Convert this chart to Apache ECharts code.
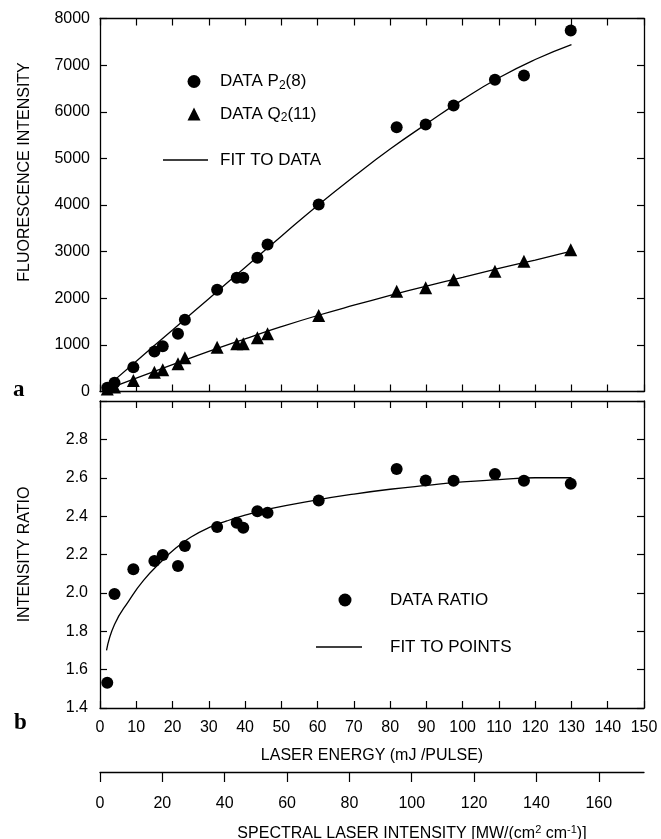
<!DOCTYPE html>
<html>
<head>
<meta charset="utf-8">
<title>fluorescence vs laser energy</title>
<script src="https://cdn.jsdelivr.net/npm/echarts@6/dist/echarts.min.js"></script>
<style>
  html, body { margin: 0; padding: 0; background: #fff; }
  #main { width: 661px; height: 839px; }
</style>
</head>
<body>
<div id="main"></div>
<script>
// laser energy of each shot (mJ/pulse), same for both panels
var energy = [2, 4, 9.2, 15, 17.3, 21.5, 23.4, 32.3, 37.7, 39.5, 43.4, 46.2, 60.3, 81.8, 89.8, 97.5, 108.9, 116.9, 129.8];
// panel a
var p2Data = [80, 190, 521, 858, 972, 1237, 1538, 2181, 2439, 2439, 2868, 3153, 4011, 5669, 5727, 6135, 6686, 6778, 7743];
var q2Data = [52, 95, 236, 414, 465, 594, 723, 950, 1023, 1023, 1152, 1237, 1630, 2152, 2224, 2396, 2581, 2795, 3039];
// panel b
var ratioData = [1.531, 1.994, 2.123, 2.166, 2.197, 2.140, 2.244, 2.343, 2.365, 2.339, 2.425, 2.417, 2.481, 2.645, 2.586, 2.584, 2.619, 2.584, 2.569];

// fit curves
var fitX = [2, 10, 20, 30, 40, 50, 60, 70, 80, 90, 100, 110, 120, 130];
var fitP2 = [110, 650, 1320, 1990, 2660, 3330, 3990, 4610, 5200, 5740, 6260, 6730, 7120, 7440];
var fitQ2 = [50, 285, 575, 860, 1130, 1390, 1630, 1850, 2060, 2260, 2450, 2640, 2820, 3010];
var ratioFitX = [1.8, 4, 8, 12, 17, 21, 25, 30, 35, 40, 46, 60, 70, 80, 90, 100, 110, 120, 130];
var ratioFit = [1.70, 1.835, 1.96, 2.065, 2.165, 2.235, 2.29, 2.34, 2.375, 2.405, 2.435, 2.485, 2.515, 2.54, 2.56, 2.578, 2.59, 2.60, 2.60];

// tick labels: [min, max, step]
var energyTicks = [0, 150, 10];
var spectralTicks = [0, 174.5, 20];
var fluoTicks = [0, 8000, 1000];
var ratioTicks = [1.4, 3.0, 0.2];

var FONT = '"Liberation Sans", Arial, sans-serif';

function pairs(xs, ys) {
  var out = [];
  for (var i = 0; i < xs.length; i++) out.push([xs[i], ys[i]]);
  return out;
}

// axis with inward ticks (frame sides)
function frameAxis(extra) {
  var ax = {
    type: 'value',
    axisLine: { show: true, onZero: false, lineStyle: { color: '#000', width: 1.3 } },
    axisTick: { show: true, inside: true, length: 7, lineStyle: { color: '#000', width: 1.2 } },
    axisLabel: { show: false },
    splitLine: { show: false }
  };
  for (var k in extra) ax[k] = extra[k];
  return ax;
}

var chart = echarts.init(document.getElementById('main'), null, { renderer: 'canvas' });

var labelStyle = {
  show: true, color: '#000', fontSize: 16, fontFamily: FONT,
  formatter: function (v) { return String(v); }
};

var option = {
  backgroundColor: '#fff',
  animation: false,
  grid: [
    { left: 100, top: 18.5, width: 544, height: 373, outerBoundsMode: 'none' },
    { left: 100, top: 401, width: 544, height: 307, outerBoundsMode: 'none' }
  ],
  xAxis: [
    frameAxis({ gridIndex: 0, position: 'bottom', min: energyTicks[0], max: energyTicks[1], interval: energyTicks[2] }),
    frameAxis({ gridIndex: 0, position: 'top', min: energyTicks[0], max: energyTicks[1], interval: energyTicks[2] }),
    frameAxis({
      gridIndex: 1, position: 'bottom', min: energyTicks[0], max: energyTicks[1], interval: energyTicks[2],
      axisLabel: Object.assign({}, labelStyle, { margin: 12 }),
      name: 'LASER ENERGY (mJ /PULSE)',
      nameLocation: 'middle',
      nameGap: 40,
      nameTextStyle: { color: '#000', fontSize: 16, fontFamily: FONT }
    }),
    frameAxis({ gridIndex: 1, position: 'top', min: energyTicks[0], max: energyTicks[1], interval: energyTicks[2] }),
    // second scale below: spectral laser intensity
    frameAxis({
      gridIndex: 1, position: 'bottom', offset: 64,
      min: spectralTicks[0], max: spectralTicks[1], interval: spectralTicks[2],
      axisTick: { show: true, inside: false, length: 10, lineStyle: { color: '#000', width: 1.2 } },
      axisLabel: Object.assign({}, labelStyle, { margin: 24, showMaxLabel: false }),
      name: '{n|SPECTRAL LASER INTENSITY [MW/(cm}{p|2}{n| cm}{p|-1}{n|)]}',
      nameLocation: 'middle',
      nameGap: 52,
      nameTextStyle: {
        color: '#000', fontSize: 16, fontFamily: FONT, padding: [0, 0, 0, 80],
        rich: {
          n: { fontSize: 16, lineHeight: 20, fontFamily: FONT, color: '#000' },
          p: { fontSize: 11, lineHeight: 11, fontFamily: FONT, color: '#000', verticalAlign: 'top' }
        }
      }
    })
  ],
  yAxis: [
    frameAxis({
      gridIndex: 0, position: 'left', min: fluoTicks[0], max: fluoTicks[1], interval: fluoTicks[2],
      axisLabel: Object.assign({}, labelStyle, { margin: 10 }),
      name: 'FLUORESCENCE INTENSITY',
      nameLocation: 'middle',
      nameGap: 67,
      nameTextStyle: { color: '#000', fontSize: 16, fontFamily: FONT, padding: [0, 0, 0, 66] }
    }),
    frameAxis({ gridIndex: 0, position: 'right', min: fluoTicks[0], max: fluoTicks[1], interval: fluoTicks[2] }),
    frameAxis({
      gridIndex: 1, position: 'left', min: ratioTicks[0], max: ratioTicks[1], interval: ratioTicks[2],
      axisLabel: Object.assign({}, labelStyle, {
        margin: 12,
        formatter: function (v) { return v > 2.95 ? '' : v.toFixed(1); }
      }),
      name: 'INTENSITY RATIO',
      nameLocation: 'middle',
      nameGap: 67,
      nameTextStyle: { color: '#000', fontSize: 16, fontFamily: FONT }
    }),
    frameAxis({ gridIndex: 1, position: 'right', min: ratioTicks[0], max: ratioTicks[1], interval: ratioTicks[2] })
  ],
  legend: [
    {
      data: ['DATA P2(8)', 'DATA Q2(11)'],
      orient: 'vertical', left: 187.5, top: 73, padding: 0,
      itemWidth: 13, itemHeight: 13, itemGap: 14,
      selectedMode: false,
      formatter: function (name) {
        if (name === 'DATA P2(8)') return '{f|DATA P}{s|2}{a|(8)}';
        return '{f|DATA Q}{s|2}{a|(11)}';
      },
      textStyle: {
        color: '#000', fontSize: 17, fontFamily: FONT,
        rich: {
          f: { fontSize: 17, lineHeight: 20, fontFamily: FONT, color: '#000', padding: [0, 0, 0, 14.5] },
          a: { fontSize: 17, lineHeight: 20, fontFamily: FONT, color: '#000' },
          s: { fontSize: 12, lineHeight: 12, fontFamily: FONT, color: '#000', verticalAlign: 'bottom' }
        }
      }
    },
    {
      // plain line as key, no marker
      data: [{ name: 'FIT TO DATA', icon: 'rect' }],
      left: 163, top: 150, padding: 0,
      itemWidth: 45, itemHeight: 1.3,
      selectedMode: false,
      itemStyle: { color: '#000' },
      textStyle: { color: '#000', fontSize: 17, lineHeight: 20, fontFamily: FONT, padding: [0, 0, 0, 7] }
    },
    {
      data: ['DATA RATIO'],
      left: 338.5, top: 590, padding: 0,
      itemWidth: 13, itemHeight: 13,
      selectedMode: false,
      textStyle: { color: '#000', fontSize: 17, lineHeight: 20, fontFamily: FONT, padding: [0, 0, 0, 33.5] }
    },
    {
      data: [{ name: 'FIT TO POINTS', icon: 'rect' }],
      left: 316, top: 637, padding: 0,
      itemWidth: 46, itemHeight: 1.3,
      selectedMode: false,
      itemStyle: { color: '#000' },
      textStyle: { color: '#000', fontSize: 17, lineHeight: 20, fontFamily: FONT, padding: [0, 0, 0, 23] }
    }
  ],
  graphic: [
    { type: 'text', left: 13, top: 379, style: { text: 'a', font: 'bold 23px "Liberation Serif", serif', fill: '#000' } },
    { type: 'text', left: 14, top: 712, style: { text: 'b', font: 'bold 23px "Liberation Serif", serif', fill: '#000' } }
  ],
  series: [
    {
      name: 'FIT TO DATA', type: 'line', xAxisIndex: 0, yAxisIndex: 0,
      data: pairs(fitX, fitP2), symbol: 'none', smooth: true,
      lineStyle: { color: '#000', width: 1.3 }, itemStyle: { color: '#000' }
    },
    {
      name: 'FIT TO DATA', type: 'line', xAxisIndex: 0, yAxisIndex: 0,
      data: pairs(fitX, fitQ2), symbol: 'none', smooth: true,
      lineStyle: { color: '#000', width: 1.3 }, itemStyle: { color: '#000' }
    },
    {
      name: 'DATA P2(8)', type: 'scatter', xAxisIndex: 0, yAxisIndex: 0,
      data: pairs(energy, p2Data), symbol: 'circle', symbolSize: 12,
      itemStyle: { color: '#000', opacity: 1 }
    },
    {
      name: 'DATA Q2(11)', type: 'scatter', xAxisIndex: 0, yAxisIndex: 0,
      data: pairs(energy, q2Data), symbol: 'triangle', symbolSize: 13,
      itemStyle: { color: '#000', opacity: 1 }
    },
    {
      name: 'FIT TO POINTS', type: 'line', xAxisIndex: 2, yAxisIndex: 2,
      data: pairs(ratioFitX, ratioFit), symbol: 'none', smooth: true,
      lineStyle: { color: '#000', width: 1.3 }, itemStyle: { color: '#000' }
    },
    {
      name: 'DATA RATIO', type: 'scatter', xAxisIndex: 2, yAxisIndex: 2,
      data: pairs(energy, ratioData), symbol: 'circle', symbolSize: 12,
      itemStyle: { color: '#000', opacity: 1 }
    }
  ]
};

chart.setOption(option);
</script>
</body>
</html>
